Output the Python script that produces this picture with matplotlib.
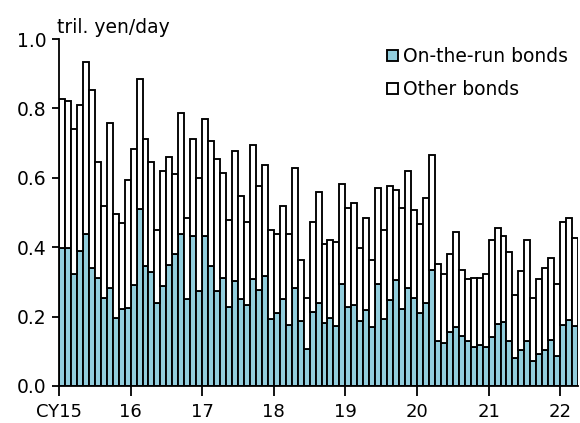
import numpy as np
import matplotlib
matplotlib.use("Agg")
import matplotlib.pyplot as plt
from matplotlib.transforms import ScaledTranslation

plt.rcParams['font.family'] = ['DejaVu Sans']

# monthly values, Jan 2015 - Mar 2022 (tril. yen/day)
on_the_run = [
    0.397, 0.397, 0.324, 0.39, 0.438, 0.34, 0.311, 0.255, 0.283, 0.197, 0.221, 0.226,
    0.292, 0.51, 0.346, 0.329, 0.238, 0.289, 0.35, 0.381, 0.438, 0.25, 0.433, 0.275,
    0.433, 0.346, 0.275, 0.312, 0.227, 0.302, 0.25, 0.232, 0.307, 0.278, 0.316, 0.192,
    0.21, 0.25, 0.175, 0.283, 0.186, 0.107, 0.214, 0.238, 0.181, 0.197, 0.173, 0.293,
    0.227, 0.233, 0.186, 0.219, 0.17, 0.293, 0.192, 0.249, 0.305, 0.221, 0.283, 0.255,
    0.21, 0.238, 0.333, 0.129, 0.124, 0.157, 0.17, 0.145, 0.129, 0.112, 0.119, 0.112,
    0.141, 0.179, 0.185, 0.129, 0.081, 0.103, 0.129, 0.071, 0.093, 0.105, 0.133, 0.086,
    0.176, 0.19, 0.173,
]
total = [
    0.826, 0.821, 0.741, 0.81, 0.935, 0.854, 0.645, 0.518, 0.757, 0.495, 0.471, 0.593,
    0.684, 0.884, 0.712, 0.645, 0.45, 0.621, 0.661, 0.61, 0.787, 0.484, 0.712, 0.598,
    0.77, 0.707, 0.655, 0.615, 0.478, 0.678, 0.547, 0.472, 0.695, 0.575, 0.638, 0.45,
    0.438, 0.518, 0.438, 0.627, 0.364, 0.255, 0.472, 0.558, 0.41, 0.421, 0.415, 0.581,
    0.512, 0.527, 0.398, 0.484, 0.364, 0.57, 0.45, 0.575, 0.564, 0.512, 0.621, 0.507,
    0.467, 0.541, 0.667, 0.352, 0.324, 0.381, 0.444, 0.335, 0.307, 0.312, 0.312, 0.324,
    0.421, 0.455, 0.432, 0.387, 0.261, 0.33, 0.421, 0.255, 0.307, 0.341, 0.37, 0.295,
    0.472, 0.484, 0.427,
]
year_labels = ['CY15', '16', '17', '18', '19', '20', '21', '22']

on_the_run = np.array(on_the_run)
other = np.array(total) - on_the_run
x = np.arange(len(on_the_run)) + 0.5

fig = plt.figure(figsize=(5.8, 4.23), dpi=100)
ax = fig.add_axes([0.1017, 0.0875, 0.895, 0.8203])

ax.bar(x, on_the_run, width=1.0, color='#92CDDC', edgecolor='black', linewidth=1.35,
       label='On-the-run bonds')
ax.bar(x, other, width=1.0, bottom=on_the_run, color='white', edgecolor='black',
       linewidth=1.35, label='Other bonds')

ax.set_xlim(0, len(on_the_run))
ax.set_ylim(0, 1.0)
ax.set_yticks(np.arange(0, 1.01, 0.2))
ax.set_yticklabels(['%.1f' % v for v in np.arange(0, 1.01, 0.2)])

# year boundaries as ticks, labels a bit to the right
ticks = np.arange(0, len(on_the_run), 12)
ax.set_xticks(ticks)
ax.set_xticklabels(year_labels)
offset = ScaledTranslation(4 / 100, 0, fig.dpi_scale_trans)
for lbl in ax.get_xticklabels():
    lbl.set_transform(lbl.get_transform() + offset)

ax.tick_params(axis='x', direction='out', length=7, width=1.3, pad=5.5, labelsize=13)
ax.tick_params(axis='y', direction='out', length=5, width=1.3, pad=4, labelsize=13.5)

for s in ['top', 'right']:
    ax.spines[s].set_visible(False)
ax.spines['left'].set_linewidth(1.3)
ax.spines['bottom'].set_linewidth(1.3)

fig.text(0.098, 0.922, 'tril. yen/day', fontsize=13.5, ha='left', va='baseline')

ax.legend(loc='upper left', bbox_to_anchor=(0.6, 1.025), frameon=False, fontsize=13.5,
          handlelength=0.55, handleheight=0.55, handletextpad=0.3, labelspacing=0.75)

fig.savefig('out.png', dpi=100)
